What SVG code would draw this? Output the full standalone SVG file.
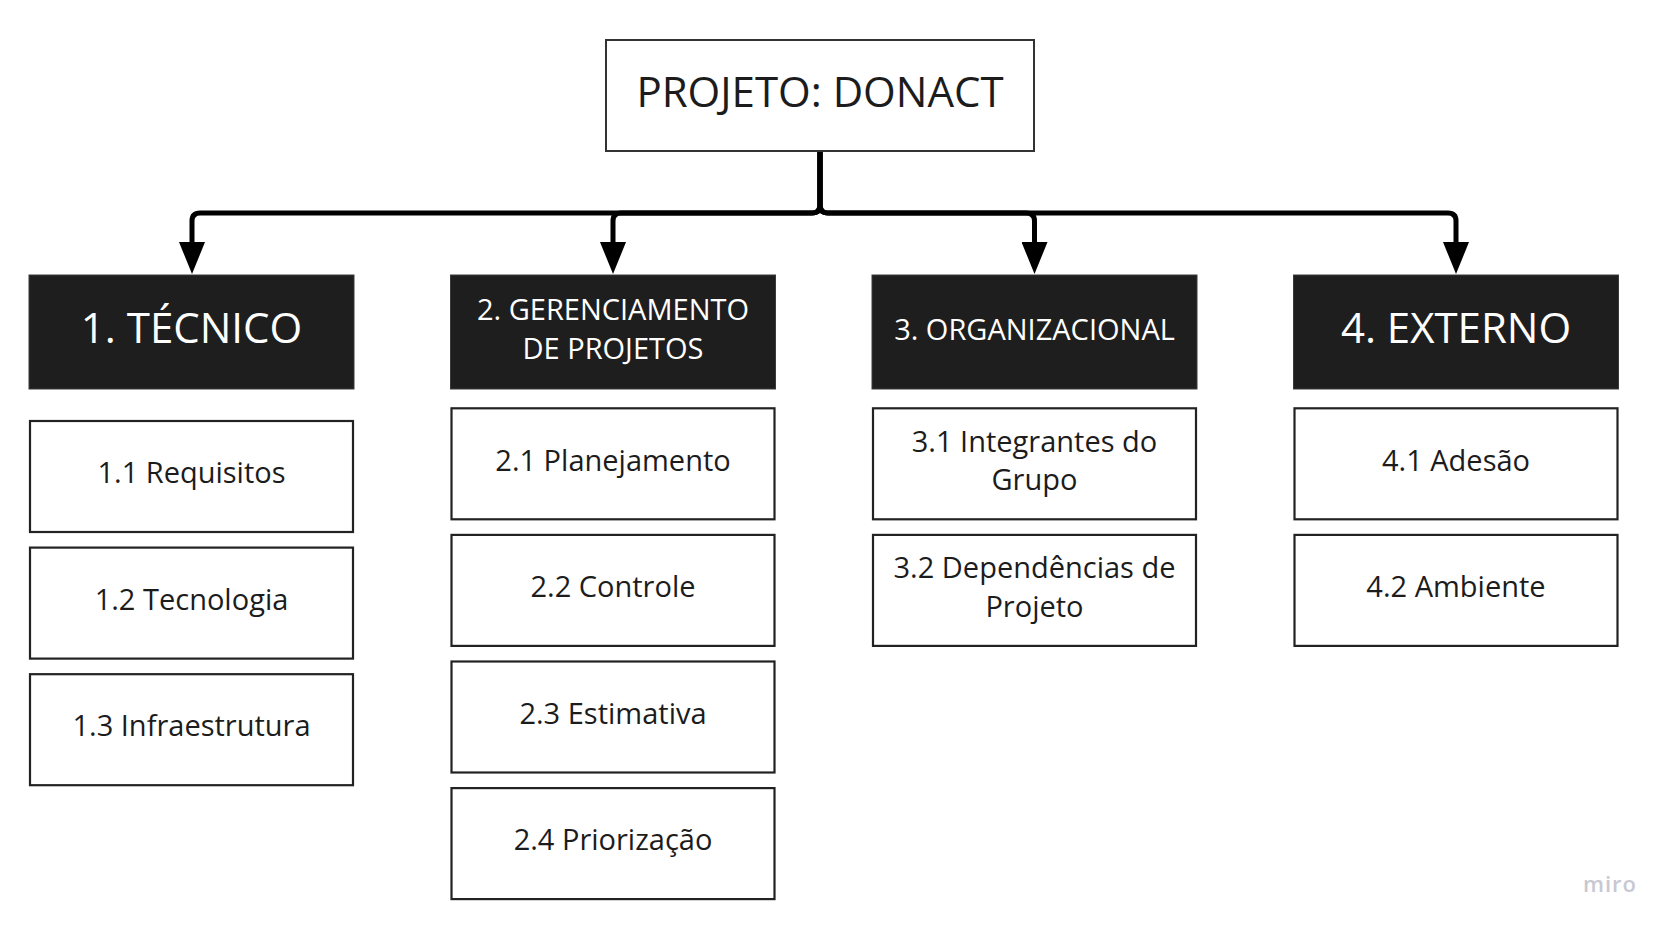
<svg xmlns="http://www.w3.org/2000/svg" width="1677" height="931" viewBox="0 0 1677 931">
<style>
text{font-family:"Open Sans","Noto Sans","DejaVu Sans",sans-serif;text-anchor:middle}
.root{fill:#fff;stroke:#333;stroke-width:2}
.cat{fill:#1e1e1e;stroke:#3a3a3a;stroke-width:1}
.sub{fill:#fff;stroke:#222;stroke-width:2.2}
.tw{fill:#fff}
.td{fill:#1c1c1c;font-size:29px}
.big{font-size:42px}
.mid{font-size:29px}
.conn{fill:none;stroke:#000;stroke-width:5;stroke-linejoin:round}
</style>
<defs>
<marker id="arr" markerUnits="userSpaceOnUse" markerWidth="32" markerHeight="26" viewBox="0 0 32 26" refX="8" refY="13" orient="auto">
<path d="M0,0 L32,13 L0,26 z" fill="#000"/>
</marker>
</defs>
<rect width="1677" height="931" fill="#fff"/>
<g id="connectors">
<path class="conn" marker-end="url(#arr)" d="M820,152 V205 Q820,213 812,213 H200 Q192,213 192,221 V250"/>
<path class="conn" marker-end="url(#arr)" d="M820,152 V205 Q820,213 812,213 H621 Q613,213 613,221 V250"/>
<path class="conn" marker-end="url(#arr)" d="M820,152 V205 Q820,213 828,213 H1026 Q1034.5,213 1034.5,221 V250"/>
<path class="conn" marker-end="url(#arr)" d="M820,152 V205 Q820,213 828,213 H1448 Q1456,213 1456,221 V250"/>
</g>
<g id="root">
<rect class="root" x="606" y="40" width="428" height="111"/>
<text class="td big" x="820" y="107">PROJETO: DONACT</text>
</g>
<g id="cat1">
<rect class="cat" x="29" y="275" width="325" height="114"/>
<text class="tw big" x="191.5" y="342.7">1. TÉCNICO</text>
</g>
<g id="cat2">
<rect class="cat" x="450.5" y="275" width="325" height="114"/>
<text class="tw mid" x="613" y="320">2. GERENCIAMENTO</text>
<text class="tw mid" x="613" y="359">DE PROJETOS</text>
</g>
<g id="cat3">
<rect class="cat" x="872" y="275" width="325" height="114"/>
<text class="tw mid" x="1034.5" y="340">3. ORGANIZACIONAL</text>
</g>
<g id="cat4">
<rect class="cat" x="1293.5" y="275" width="325" height="114"/>
<text class="tw big" x="1456" y="342.7">4. EXTERNO</text>
</g>
<g id="n1_1"><rect class="sub" x="30" y="421" width="323" height="111"/><text class="td" x="191.5" y="483">1.1 Requisitos</text></g>
<g id="n1_2"><rect class="sub" x="30" y="547.6" width="323" height="111"/><text class="td" x="191.5" y="609.6">1.2 Tecnologia</text></g>
<g id="n1_3"><rect class="sub" x="30" y="674.2" width="323" height="111"/><text class="td" x="191.5" y="736.2">1.3 Infraestrutura</text></g>
<g id="n2_1"><rect class="sub" x="451.5" y="408.3" width="323" height="111"/><text class="td" x="613" y="470.5">2.1 Planejamento</text></g>
<g id="n2_2"><rect class="sub" x="451.5" y="534.9" width="323" height="111"/><text class="td" x="613" y="597.1">2.2 Controle</text></g>
<g id="n2_3"><rect class="sub" x="451.5" y="661.5" width="323" height="111"/><text class="td" x="613" y="723.7">2.3 Estimativa</text></g>
<g id="n2_4"><rect class="sub" x="451.5" y="788.1" width="323" height="111"/><text class="td" x="613" y="850.3">2.4 Priorização</text></g>
<g id="n3_1"><rect class="sub" x="873" y="408.3" width="323" height="111"/><text class="td" x="1034.5" y="451.5">3.1 Integrantes do</text><text class="td" x="1034.5" y="490">Grupo</text></g>
<g id="n3_2"><rect class="sub" x="873" y="534.9" width="323" height="111"/><text class="td" x="1034.5" y="578.1">3.2 Dependências de</text><text class="td" x="1034.5" y="616.6">Projeto</text></g>
<g id="n4_1"><rect class="sub" x="1294.5" y="408.3" width="323" height="111"/><text class="td" x="1456" y="470.5">4.1 Adesão</text></g>
<g id="n4_2"><rect class="sub" x="1294.5" y="534.9" width="323" height="111"/><text class="td" x="1456" y="597.1">4.2 Ambiente</text></g>
<text x="1610" y="892" style="font-size:22px;font-weight:600;fill:#c8c8d2;letter-spacing:1px">miro</text>
</svg>
